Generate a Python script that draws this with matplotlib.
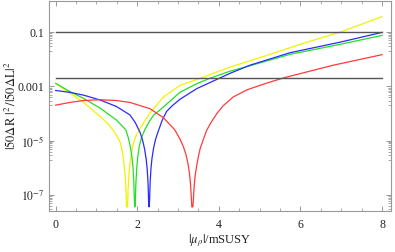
import numpy as np
import matplotlib
matplotlib.use('Agg')
import matplotlib.pyplot as plt
from matplotlib.ticker import FixedLocator, NullFormatter

plt.rcParams['font.family'] = ['Liberation Serif', 'DejaVu Serif']
plt.rcParams['mathtext.fontset'] = 'stix'

# curves (x, log10 of value)
yellow_x = [0, 0.35, 0.68, 1.09, 1.30, 1.45, 1.53, 1.59, 1.64, 1.68, 1.705, 1.725, 1.738, 1.75,
            1.762, 1.775, 1.795, 1.82, 1.86, 1.90, 1.97, 2.07, 2.30, 2.64, 3.05, 3.58, 4.27,
            5.17, 5.99, 6.97, 8.0]
yellow_log = [-2.89, -3.25, -3.58, -4.11, -4.40, -4.70, -4.90, -5.10, -5.45, -5.95, -6.35, -6.90, -7.44, -7.44,
              -7.44, -6.80, -6.25, -5.85, -5.45, -5.12, -4.82, -4.55, -4.00, -3.39, -2.96, -2.68, -2.29,
              -1.86, -1.45, -1.00, -0.43]

green_x = [0, 0.35, 0.68, 1.09, 1.49, 1.72, 1.78, 1.83, 1.87, 1.895, 1.915, 1.928, 1.94,
           1.952, 1.965, 1.985, 2.01, 2.05, 2.10, 2.16, 2.19, 2.30, 2.40, 2.64, 3.05, 3.46, 3.78,
           4.27, 4.76, 5.74, 6.97, 8.0]
green_log = [-2.89, -3.19, -3.44, -3.80, -4.24, -4.60, -4.89, -5.22, -5.61, -5.99, -6.50, -7.14, -7.44,
             -7.25, -6.61, -6.05, -5.62, -5.20, -4.90, -4.68, -4.58, -4.28, -4.06, -3.76, -3.21, -2.90, -2.70,
             -2.44, -2.24, -1.82, -1.45, -1.12]

blue_x = [0, 0.35, 0.68, 1.09, 1.49, 1.82, 1.95, 2.07, 2.13, 2.18, 2.22, 2.245, 2.265, 2.278, 2.29,
          2.302, 2.315, 2.335, 2.36, 2.40, 2.45, 2.51, 2.61, 2.72, 2.85, 3.05, 3.46, 4.01,
          4.27, 4.76, 5.74, 6.97, 8.0]
blue_log = [-3.15, -3.22, -3.32, -3.50, -3.74, -4.05, -4.33, -4.70, -4.98, -5.31, -5.70, -6.08, -6.59, -7.23, -7.44,
            -7.19, -6.55, -6.04, -5.66, -5.27, -4.94, -4.67, -4.25, -3.92, -3.72, -3.47, -3.08, -2.70,
            -2.52, -2.22, -1.76, -1.37, -1.01]

red_x = [0, 0.35, 0.68, 1.09, 1.49, 1.82, 2.31, 2.64, 2.92, 3.05, 3.13, 3.19, 3.24, 3.28, 3.305,
         3.325, 3.338, 3.35, 3.362, 3.375, 3.395, 3.42, 3.46, 3.51, 3.54, 3.62, 3.70, 3.80,
         3.95, 4.10, 4.35, 4.70, 5.17, 5.60, 6.80, 8.0]
red_log = [-3.69, -3.59, -3.52, -3.49, -3.52, -3.59, -3.82, -4.15, -4.60, -4.95, -5.22, -5.49, -5.82, -6.21, -6.59,
           -7.10, -7.44, -7.44, -7.44, -7.17, -6.66, -6.28, -5.89, -5.50, -5.30, -4.95, -4.62, -4.35,
           -4.00, -3.72, -3.39, -3.12, -2.88, -2.68, -2.22, -1.83]

hlines = [0.1, 0.002]

fig = plt.figure(figsize=(3.95, 2.52), dpi=100)
ax = fig.add_axes([49/395, 41/252, 342/395, 210/252])

ax.plot(yellow_x, 10**np.array(yellow_log), color='#f2f200', lw=0.9)
ax.plot(green_x, 10**np.array(green_log), color='#22e022', lw=0.9)
ax.plot(blue_x, 10**np.array(blue_log), color='#2a2aff', lw=0.9)
ax.plot(red_x, 10**np.array(red_log), color='#ff3a3a', lw=0.9)
for h in hlines:
    ax.plot([0, 8], [h, h], color='#555555', lw=1.0)

ax.set_yscale('log')
ax.set_xlim(-0.164, 8.22)
ax.set_ylim(10**-7.59, 10**0.147)

ax.set_xticks([0, 2, 4, 6, 8])
ax.xaxis.set_minor_locator(FixedLocator(np.arange(0, 8.01, 0.5)))
ax.yaxis.set_major_locator(FixedLocator([1e-7, 1e-5, 1e-3, 1e-1]))
ax.set_yticklabels([r'$10^{-7}$', r'$10^{-5}$', '0.001', '0.1'])
minors = [m * 10.0**(k - 1) for k in [-7, -5, -3, -1] for m in range(2, 10)]
ax.yaxis.set_minor_locator(FixedLocator(minors))
ax.yaxis.set_minor_formatter(NullFormatter())

ax.tick_params(which='both', direction='in', top=True, right=True, color='#888888',
               labelsize=8.5, labelcolor='#222222')
ax.tick_params(which='major', length=3.5, width=0.6)
ax.tick_params(which='minor', length=2, width=0.5)
ax.tick_params(axis='x', which='major', pad=5.5)
for s in ax.spines.values():
    s.set_color('#999999')
    s.set_linewidth(0.8)

ax.set_xlabel(r'$|\mu_\rho|$/mSUSY', fontsize=9, color='#222222', labelpad=1)
ax.set_ylabel(r'$|50\Delta\mathrm{R}\ |^2\,/|50\Delta\mathrm{L}|^2$', fontsize=9, color='#222222', labelpad=0)
ax.yaxis.set_label_coords(-0.088, 0.5)

fig.savefig('out.png', dpi=100)
